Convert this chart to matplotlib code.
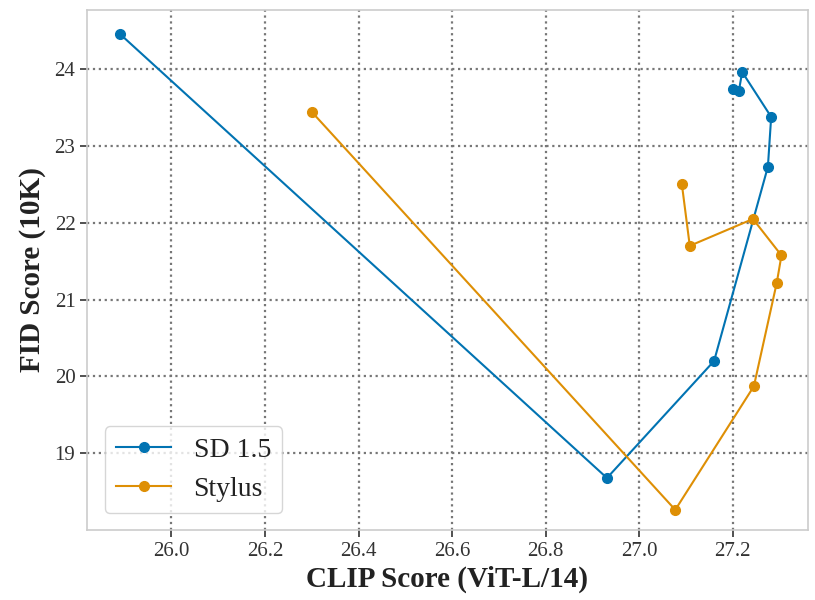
import matplotlib
matplotlib.use("Agg")
from matplotlib import pyplot as plt

# данные
sd_clip = [25.89, 26.931, 27.160, 27.275, 27.282, 27.220, 27.213, 27.200]
sd_fid = [24.46, 18.675, 20.20, 22.73, 23.38, 23.965, 23.72, 23.74]
st_clip = [26.30, 27.077, 27.245, 27.294, 27.304, 27.243, 27.108, 27.091]
st_fid = [23.445, 18.26, 19.87, 21.22, 21.575, 22.05, 21.70, 22.507]
xticks = [26.0, 26.2, 26.4, 26.6, 26.8, 27.0, 27.2]
yticks = [19, 20, 21, 22, 23, 24]

plt.rcParams['font.family'] = ['Liberation Serif', 'DejaVu Serif']

fig = plt.figure(figsize=(8.15, 6.0), dpi=100)
ax = fig.add_axes([0.107, 0.117, 0.884, 0.866])

ax.plot(sd_clip, sd_fid, color='#0173b2', marker='o', markersize=7, linewidth=1.5, label='SD 1.5', zorder=3)
ax.plot(st_clip, st_fid, color='#de8f05', marker='o', markersize=7, linewidth=1.5, label='Stylus', zorder=3)

ax.set_xlim(25.82, 27.36)
ax.set_ylim(18.0, 24.77)
ax.set_xticks(xticks)
ax.set_xticklabels([f"{t:.1f}" for t in xticks])
ax.set_yticks(yticks)

ax.grid(True, linestyle=':', color='#777777', linewidth=1.6)
for s in ax.spines.values():
    s.set_color('#cccccc')
    s.set_linewidth(1.2)
ax.tick_params(axis='both', labelsize=15, length=5, width=1.2, color='#333333', labelcolor='#333333')

ax.set_xlabel('CLIP Score (ViT-L/14)', fontsize=21, fontweight='bold', color='#222222', labelpad=4)
ax.set_ylabel('FID Score (10K)', fontsize=21, fontweight='bold', color='#222222', labelpad=6)

leg = ax.legend(loc='lower left', fontsize=20, frameon=True, borderpad=0.4,
                handlelength=2.0, bbox_to_anchor=(0.005, 0.005))
leg.get_frame().set_edgecolor('#cccccc')
for t in leg.get_texts():
    t.set_color('#222222')

plt.savefig('out.png', dpi=100)
